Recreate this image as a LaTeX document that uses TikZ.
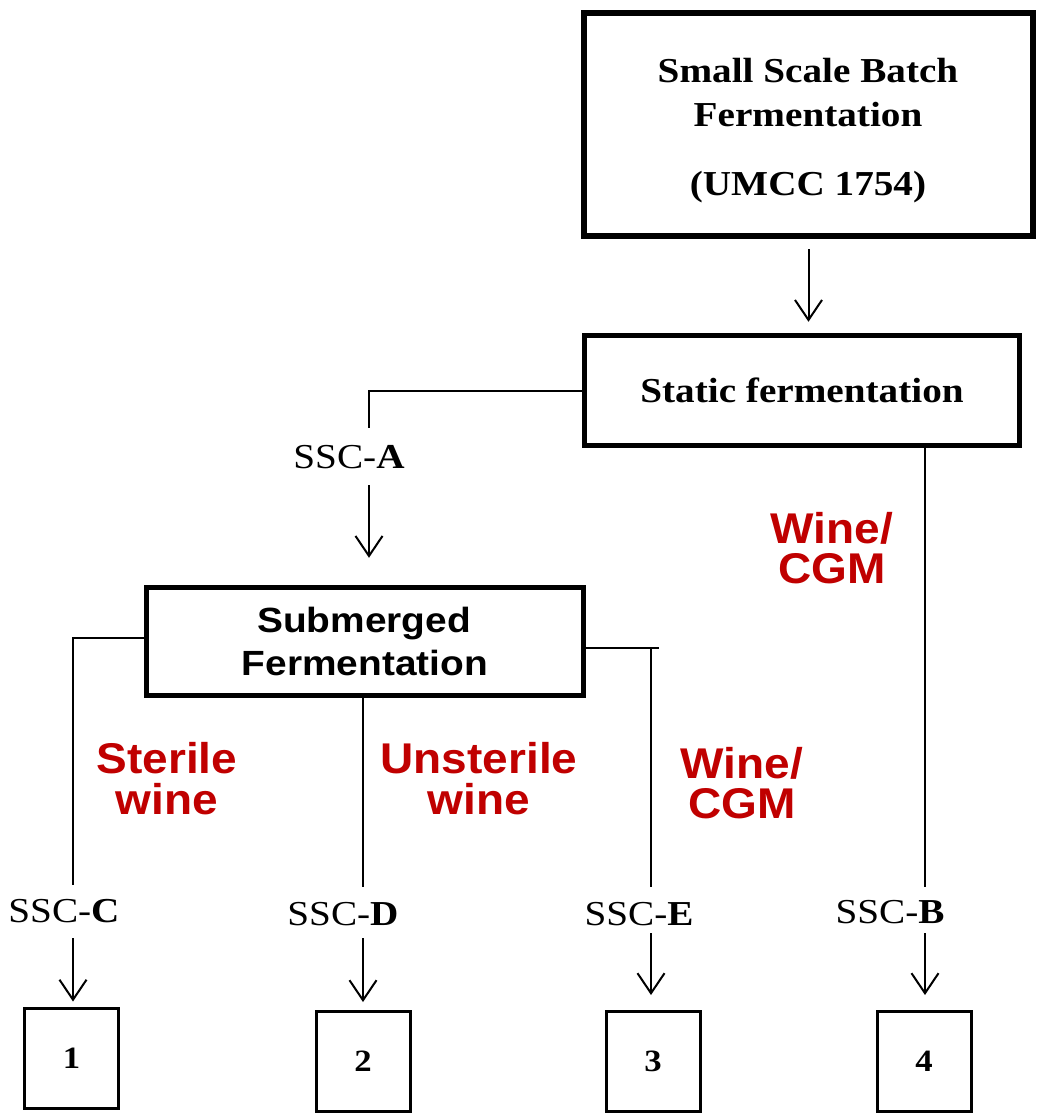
\documentclass[tikz,border=0pt]{standalone}
\usepackage{fontspec}
\setmainfont{Liberation Serif}[FakeStretch=1.12]
\newfontfamily\subfont{Liberation Sans}[FakeStretch=1.11]
\newfontfamily\redfont{Liberation Sans}[FakeStretch=1.07]
\usetikzlibrary{arrows.meta}
\definecolor{wred}{RGB}{192,0,0}
\begin{document}
\begin{tikzpicture}[x=1pt,y=-1pt,
  bigbox/.style={draw, line width=5.5pt, inner sep=0pt},
  smallbox/.style={draw, line width=3pt, minimum width=94pt, minimum height=100pt, inner sep=0pt, font=\bfseries\fontsize{31}{36}\selectfont},
  boxtext/.style={font=\bfseries\fontsize{35}{42}\selectfont, anchor=base, inner sep=0pt},
  subtext/.style={font=\subfont\bfseries\fontsize{35}{42}\selectfont, anchor=base, inner sep=0pt},
  ssc/.style={font=\fontsize{35}{42}\selectfont, anchor=base, inner sep=0pt},
  redl/.style={font=\redfont\bfseries\fontsize{43}{41}\selectfont, text=wred, anchor=base, inner sep=0pt},
  conn/.style={draw, line width=2pt},
  arr/.style={-{Straight Barb[length=20pt,width=27pt]}}]
\path[fill=white] (0,0) rectangle (1038,1117);

% boxes
\node[bigbox, line width=6pt, minimum width=449pt, minimum height=223pt] (top) at (808.5,124.5) {};
\node[boxtext] (topl1) at (808,82) {Small Scale Batch};
\node[boxtext] (topl2) at (808,126) {Fermentation};
\node[boxtext] (topl3) at (808,195) {(UMCC 1754)};

\node[bigbox, minimum width=435pt, minimum height=110pt, font=\bfseries\fontsize{35}{42}\selectfont] (static) at (802,390.5) {Static fermentation};

\node[bigbox, minimum width=437pt, minimum height=108pt] (sub) at (365,641.5) {};
\node[subtext] (subl1) at (364,632) {Submerged};
\node[subtext] (subl2) at (365,675) {Fermentation};

\node[smallbox] (b1) at (71.5,1058) {1};
\node[smallbox] (b2) at (363,1061.5) {2};
\node[smallbox] (b3) at (653,1061.5) {3};
\node[smallbox] (b4) at (924,1061.5) {4};

% labels
\node[ssc] (lA) at (349,468) {SSC-\textbf{A}};
\node[ssc] (lC) at (64,922) {SSC-\textbf{C}};
\node[ssc] (lD) at (343,925) {SSC-\textbf{D}};
\node[ssc] (lE) at (639,925) {SSC-\textbf{E}};
\node[ssc] (lB) at (890,923) {SSC-\textbf{B}};

\node[redl] (r1a) at (832,543) {Wine/};
\node[redl] (r1b) at (832,583) {CGM};
\node[redl] (r2a) at (167,773) {Sterile};
\node[redl] (r2b) at (167,814) {wine};
\node[redl] (r3a) at (479,773) {Unsterile};
\node[redl] (r3b) at (479,814) {wine};
\node[redl] (r4a) at (742,778) {Wine/};
\node[redl] (r4b) at (742,818) {CGM};

% connector points
\coordinate (a1) at (369,428);
\coordinate (a2) at (369,485);
\coordinate (c1) at (73,885);
\coordinate (c2) at (73,938);
\coordinate (d1) at (363,887);
\coordinate (d2) at (363,938);
\coordinate (e0) at (659,648);
\coordinate (e1) at (651,887);
\coordinate (e2) at (651,933);
\coordinate (f1) at (925,887);
\coordinate (f2) at (925,933);

% connectors
\draw[conn,arr] ([yshift=-10pt]top.south) -- ([yshift=11pt]static.north -| top.south);
\draw[conn] (static.west) -| (a1);
\draw[conn,arr] (a2) -- ([yshift=27pt]sub.north -| a2);
\draw[conn] (static.south -| f1) -- (f1);
\draw[conn] ([yshift=3.5pt]sub.west) -| (c1);
\draw[conn] (sub.south -| d1) -- (d1);
\draw[conn] (sub.east |- e0) -- (e0);
\draw[conn] (e1 |- e0) -- (e1);
\draw[conn,arr] (c2) -- ([yshift=5pt]b1.north -| c2);
\draw[conn,arr] (d2) -- ([yshift=8pt]b2.north -| d2);
\draw[conn,arr] (e2) -- ([yshift=15pt]b3.north -| e2);
\draw[conn,arr] (f2) -- ([yshift=15pt]b4.north -| f2);
\end{tikzpicture}
\end{document}
